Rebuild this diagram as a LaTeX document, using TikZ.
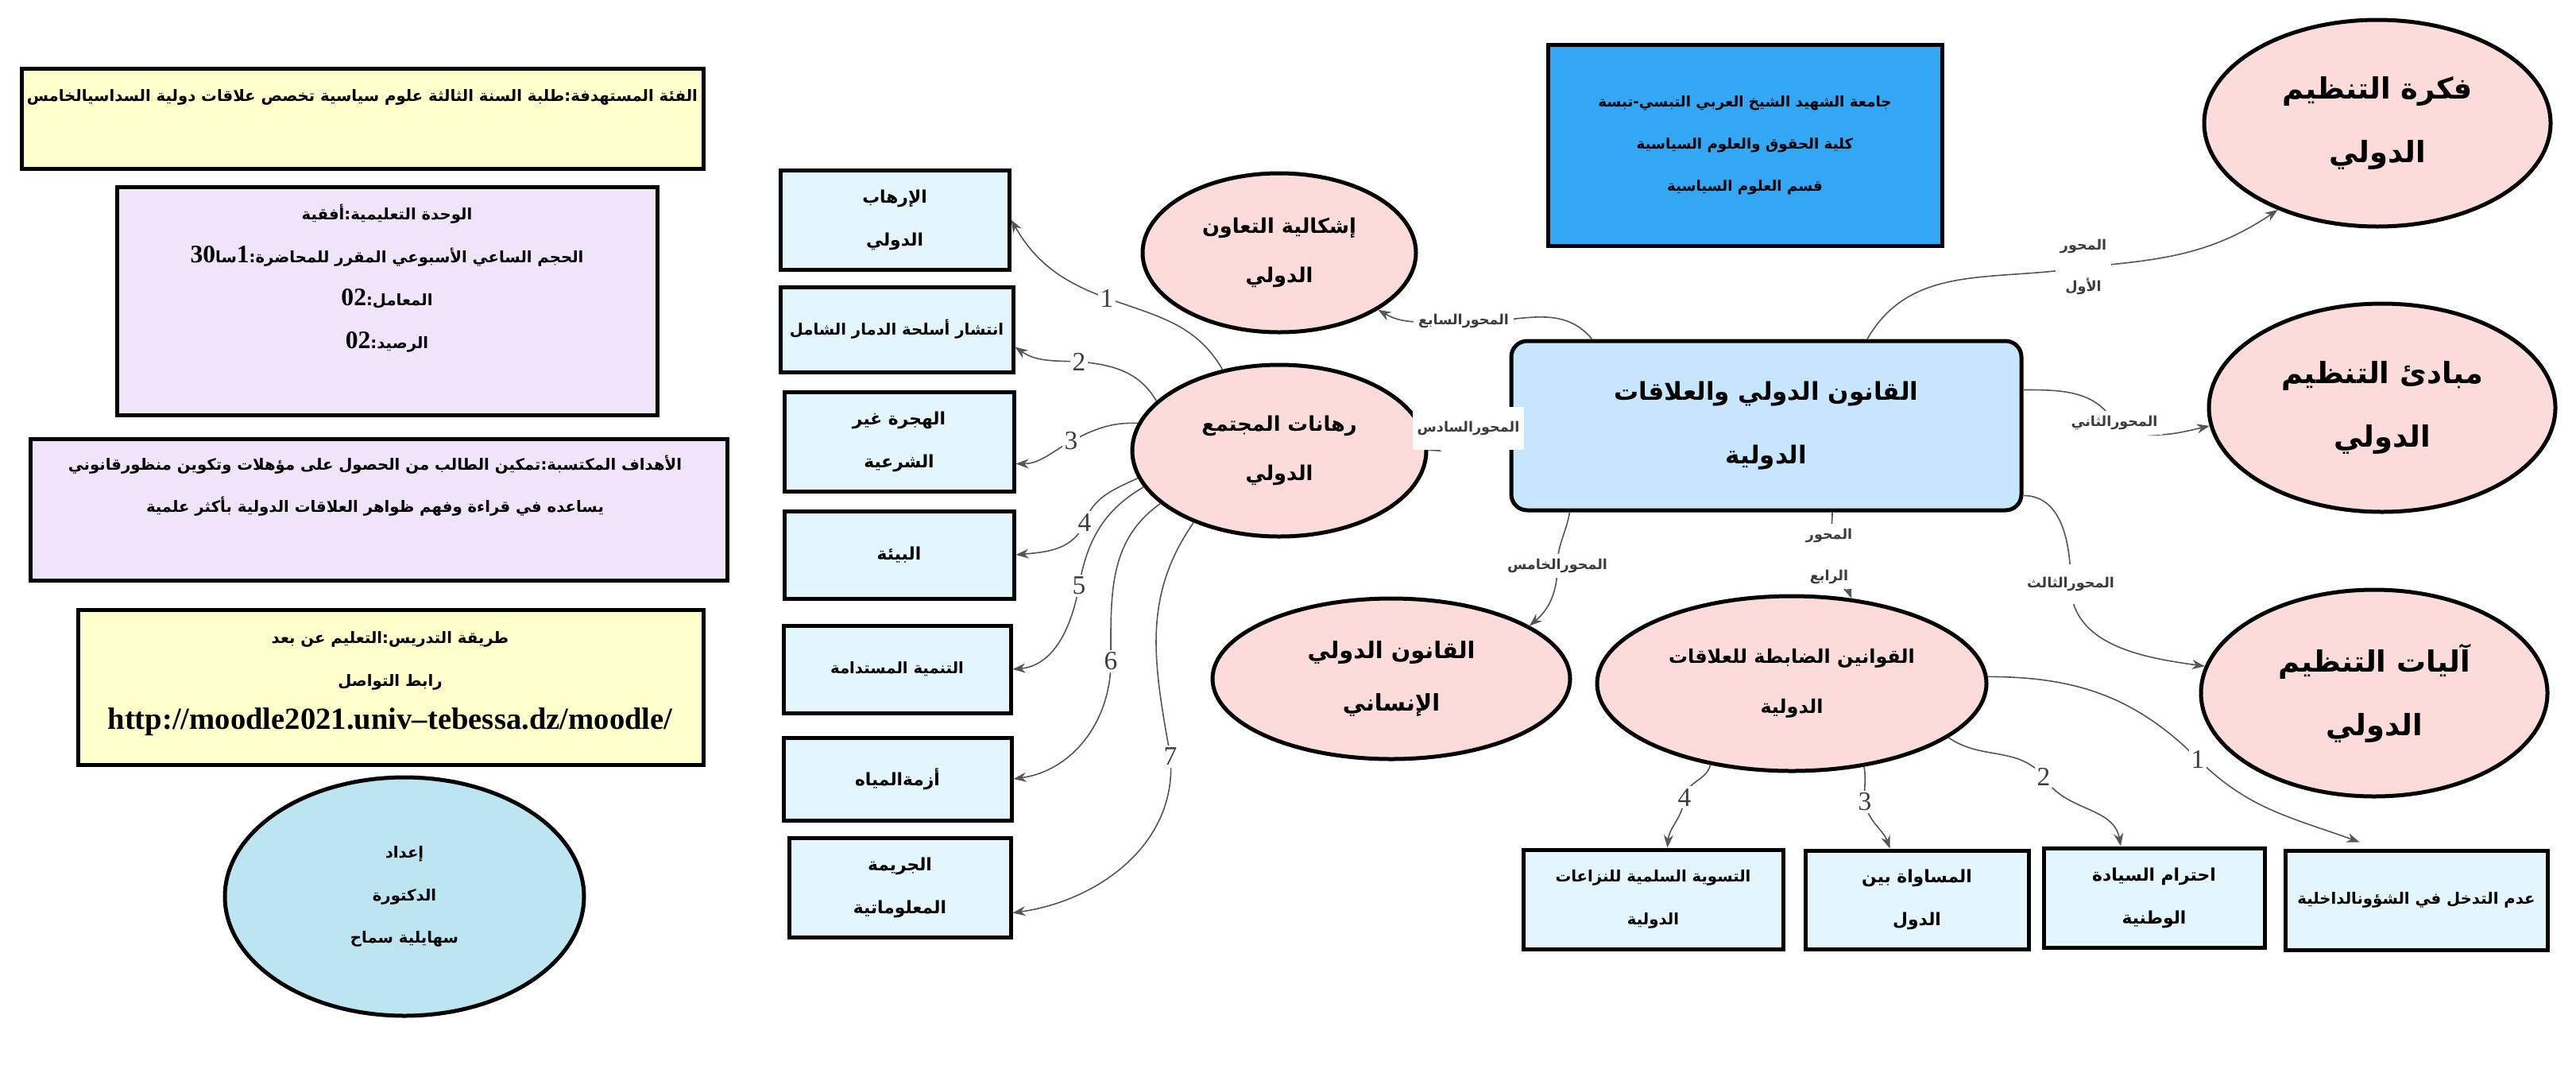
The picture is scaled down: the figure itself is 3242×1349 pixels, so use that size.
\documentclass[tikz,border=0pt]{standalone}
\usepackage{fontspec}
\usetikzlibrary{shapes.geometric,arrows.meta,calc}
\TeXXeTstate=1
\newfontfamily\arabicfont[Script=Arabic]{DejaVu Sans}
\newfontfamily\numfont{Liberation Serif}
\newcommand{\ArT}[1]{\beginR#1\endR}
\definecolor{yel}{HTML}{FFFFCC}
\definecolor{lav}{HTML}{F0E4FA}
\definecolor{lblue}{HTML}{BDE4F1}
\definecolor{pinkE}{HTML}{FBDCDA}
\definecolor{pbox}{HTML}{E3F5FD}
\definecolor{cbox}{HTML}{C5E6FC}
\definecolor{ubox}{HTML}{33A7F3}
\definecolor{lineG}{HTML}{555555}
\definecolor{numG}{HTML}{3C3C3C}
\tikzset{
  box/.style={draw=black, line width=0.5mm, rectangle, inner sep=0pt},
  ell/.style={draw=black, line width=0.5mm, ellipse, inner sep=0pt, fill=pinkE},
  conn/.style={draw=lineG, line width=0.16mm, -{Stealth[length=1.6mm,width=1.2mm]}},
  num/.style={fill=white, inner sep=0.3mm, text=numG, font=\numfont\fontsize{9.5}{10}\selectfont},
  axl/.style={fill=white, inner sep=0.6mm, text=numG, align=center, font=\arabicfont\bfseries\fontsize{5}{15}\selectfont},
  tsm/.style={align=center, font=\arabicfont\bfseries\fontsize{6.2}{15.3}\selectfont},
  txs/.style={align=center, font=\arabicfont\bfseries\fontsize{5.6}{15.3}\selectfont},
  tmid/.style={align=center, font=\arabicfont\bfseries\fontsize{7.3}{17.5}\selectfont},
  tbig/.style={align=center, font=\arabicfont\bfseries\fontsize{10.5}{22.8}\selectfont},
  tctr/.style={align=center, font=\arabicfont\bfseries\fontsize{8.8}{22.5}\selectfont},
  nb/.style={font=\numfont\bfseries\fontsize{9}{15}\selectfont},
}
\begin{document}
\begin{tikzpicture}[x=0.1mm,y=-0.1mm]
\fill[white] (0,0) rectangle (3242,1349);
\useasboundingbox (0,0) rectangle (3242,1349);

% ---------- left column ----------
\node[box, fill=yel, minimum width=85.8mm, minimum height=12.6mm] (lb1) at (456,149) {};
\node[txs] (lb1t) at (456,122) {\ArT{الفئة المستهدفة:طلبة السنة الثالثة علوم سياسية تخصص علاقات دولية السداسيالخامس}};

\node[box, fill=lav, minimum width=68mm, minimum height=28.7mm] (lb2) at (487,378.5) {};
\node[txs] (lb2t) at (487,350) {\ArT{الوحدة التعليمية:أفقية}\\
\ArT{الحجم الساعي الأسبوعي المقرر للمحاضرة:\beginL{\numfont\bfseries\fontsize{9}{15}\selectfont 1}\endL سا\beginL{\numfont\bfseries\fontsize{9}{15}\selectfont 30}\endL}\\
\ArT{المعامل:\beginL{\numfont\bfseries\fontsize{9}{15}\selectfont 02}\endL}\\
\ArT{الرصيد:\beginL{\numfont\bfseries\fontsize{9}{15}\selectfont 02}\endL}};

\node[box, fill=lav, minimum width=87.7mm, minimum height=17.8mm] (lb3) at (476.5,641) {};
\node[txs] (lb3t) at (472,611) {\ArT{الأهداف المكتسبة:تمكين الطالب من الحصول على مؤهلات وتكوين منظورقانوني}\\
\ArT{يساعده في قراءة وفهم  ظواهر العلاقات الدولية  بأكثر علمية}};

\node[box, fill=yel, minimum width=78.7mm, minimum height=19.5mm] (lb4) at (491.5,864.5) {};
\node[txs] (lb4t) at (491,860) {\ArT{طريقة التدريس:التعليم عن بعد}\\
\ArT{رابط التواصل}\\
{\numfont\fontsize{11}{15}\selectfont http://moodle2021.univ–tebessa.dz/moodle/}};

\node[ell, fill=lblue, minimum width=45.2mm, minimum height=30mm, txs] (el) at (509,1128)
  {\ArT{إعداد}\\ \ArT{الدكتورة}\\ \ArT{سهايلية سماح}};

% ---------- middle boxes ----------
\node[box, fill=pbox, minimum width=28.8mm, minimum height=12.5mm, tsm] (m1) at (1126,276.5) {\ArT{الإرهاب}\\ \ArT{الدولي}};
\node[box, fill=pbox, minimum width=29.3mm, minimum height=10.7mm, txs] (m2) at (1128.5,414.5) {\ArT{انتشار أسلحة الدمار الشامل}};
\node[box, fill=pbox, minimum width=28.9mm, minimum height=12.5mm, tsm] (m3) at (1131.5,555.5) {\ArT{الهجرة غير}\\ \ArT{الشرعية}};
\node[box, fill=pbox, minimum width=28.9mm, minimum height=11mm, tsm] (m4) at (1131.5,698) {\ArT{البيئة}};
\node[box, fill=pbox, minimum width=28.6mm, minimum height=11mm, txs] (m5) at (1129,842) {\ArT{التنمية المستدامة}};
\node[box, fill=pbox, minimum width=28.7mm, minimum height=10.4mm, tsm] (m6) at (1129.5,980) {\ArT{أزمةالمياه}};
\node[box, fill=pbox, minimum width=27.9mm, minimum height=12.5mm, tsm] (m7) at (1132.5,1116.5) {\ArT{الجريمة}\\ \ArT{المعلوماتية}};

% ---------- ellipses ----------
\node[ell, minimum width=34.4mm, minimum height=20mm, tmid] (iq) at (1610,318) {\ArT{إشكالية التعاون}\\ \ArT{الدولي}};
\node[ell, minimum width=37mm, minimum height=21.6mm, tmid] (rh) at (1610,567) {\ArT{رهانات المجتمع}\\ \ArT{الدولي}};
\node[ell, minimum width=45mm, minimum height=20.2mm, tmid, font=\arabicfont\bfseries\fontsize{8.2}{19}\selectfont] (ins) at (1751,854) {\ArT{القانون الدولي}\\ \ArT{الإنساني}};
\node[ell, minimum width=49mm, minimum height=22mm, tmid, font=\arabicfont\bfseries\fontsize{6.8}{18}\selectfont] (qw) at (2255,860) {\ArT{القوانين الضابطة للعلاقات}\\ \ArT{الدولية}};
\node[ell, minimum width=43.6mm, minimum height=26mm, tbig] (fk) at (2992,155) {\ArT{فكرة التنظيم}\\ \ArT{الدولي}};
\node[ell, minimum width=43.6mm, minimum height=26.2mm, tbig] (mb) at (2998,513) {\ArT{مبادئ التنظيم}\\ \ArT{الدولي}};
\node[ell, minimum width=43.6mm, minimum height=26mm, tbig] (al) at (2988,872) {\ArT{آليات التنظيم}\\ \ArT{الدولي}};

% ---------- top boxes ----------
\node[box, fill=ubox, minimum width=49.6mm, minimum height=25.3mm, align=center, font=\arabicfont\bfseries\fontsize{5.2}{15.1}\selectfont] (uni) at (2196,182.5)
  {\ArT{جامعة الشهيد الشيخ العربي التبسي-تبسة}\\ \ArT{كلية الحقوق والعلوم السياسية}\\ \ArT{قسم العلوم السياسية}};
\node[box, fill=cbox, rounded corners=2mm, minimum width=64.2mm, minimum height=21.3mm, tctr] (ct) at (2223,535.5)
  {\ArT{القانون الدولي والعلاقات}\\ \ArT{الدولية}};

% ---------- bottom boxes ----------
\node[box, fill=pbox, minimum width=32.7mm, minimum height=12.5mm, txs] (bt1) at (2080.5,1131.5) {\ArT{التسوية السلمية للنزاعات}\\ \ArT{الدولية}};
\node[box, fill=pbox, minimum width=28.1mm, minimum height=12.4mm, tsm] (bt2) at (2412.5,1132) {\ArT{المساواة بين}\\ \ArT{الدول}};
\node[box, fill=pbox, minimum width=27.8mm, minimum height=12.5mm, tsm] (bt3) at (2711,1129.5) {\ArT{احترام  السيادة}\\ \ArT{الوطنية}};
\node[box, fill=pbox, minimum width=33mm, minimum height=12.5mm, txs] (bt4) at (3041,1132.5) {\ArT{عدم التدخل في الشؤونالداخلية}};

% ---------- label positions ----------
\coordinate (p1) at (1393,375);
\coordinate (p2) at (1358,455);
\coordinate (p3) at (1348,555);
\coordinate (p4) at (1365,657);
\coordinate (p5) at (1358,737);
\coordinate (p6) at (1398,832);
\coordinate (p7) at (1473,952);
\coordinate (q1) at (2622,336);
\coordinate (q2) at (2661,532);
\coordinate (q3) at (2606,735);
\coordinate (q4) at (2302,700);
\coordinate (q5) at (1960,712);
\coordinate (q6) at (1848,539);
\coordinate (q7) at (1842,404);
\coordinate (r1) at (2766,955);
\coordinate (r2) at (2572,977);
\coordinate (r3) at (2347,1009);
\coordinate (r4) at (2120,1003);

% ---------- connectors from rh ----------
\draw[conn] (rh.125) to[out=120,in=-20] (p1) to[out=160,in=-60] (m1.east);
\draw[conn] (rh.158) to[out=120,in=-5] (p2) to[out=178,in=-35] ($(m2.east)+(0,22)$);
\draw[conn] (rh.169) to[out=178,in=27] (p3) to[out=210,in=0] ($(m3.east)+(0,28)$);
\draw[conn] (rh.191) to[out=205,in=70] (p4) to[out=250,in=5] (m4.east);
\draw[conn] (rh.195) to[out=210,in=80] (p5) to[out=260,in=5] (m5.east);
\draw[conn] (rh.204) to[out=215,in=90] (p6) to[out=-90,in=8] (m6.east);
\draw[conn] (rh.220) to[out=235,in=100] (p7) to[out=-85,in=8] ($(m7.east)+(0,32)$);

% ---------- connectors from ct ----------
\draw[conn] ($(ct.north)+(127,0)$) to[out=60,in=190] (q1) to[out=5,in=214] (fk.221);
\draw[conn] ($(ct.east)+(0,-45)$) to[out=0,in=120] (q2) to[out=-30,in=193] (mb.186);
\draw[conn] ($(ct.east)+(0,88)$) to[out=0,in=90] (q3) to[out=-90,in=172] (al.171);
\draw[conn] ($(ct.south)+(83,0)$) to[out=-90,in=90] (q4) to[out=-90,in=110] (qw.55);
\draw[conn] ($(ct.south west)+(76,0)$) to[out=-100,in=90] (q5) to[out=-90,in=40] (ins.21);
\draw[conn] (ct.west) -- (rh.east);
\draw[conn] ($(ct.north west)+(104,0)$) to[out=130,in=-5] (q7) to[out=178,in=-30] (iq.-30);

% ---------- connectors from qw ----------
\draw[conn] (qw.2) to[out=0,in=135] (r1) to[out=-45,in=160] ($(bt4.north west)+(96,-8)$);
\draw[conn] (qw.-19.5) to[out=-35,in=130] (r2) to[out=-60,in=100] ($(bt3.north)+(-42,0)$);
\draw[conn] (qw.-49) to[out=-80,in=95] (r3) to[out=-80,in=110] ($(bt2.north)+(-34,0)$);
\draw[conn] (qw.225) to[out=-105,in=80] (r4) to[out=-95,in=85] ($(bt1.north)+(18,0)$);

% ---------- labels ----------
\node[num] (n1) at (p1) {1};
\node[num] (n2) at (p2) {2};
\node[num] (n3) at (p3) {3};
\node[num] (n4) at (p4) {4};
\node[num] (n5) at (p5) {5};
\node[num] (n6) at (p6) {6};
\node[num] (n7) at (p7) {7};
\node[num] (k1) at (r1) {1};
\node[num] (k2) at (r2) {2};
\node[num] (k3) at (r3) {3};
\node[num] (k4) at (r4) {4};
\node[axl] (a1) at (q1) {\ArT{المحور}\\ \ArT{الأول}};
\node[axl] (a2) at (q2) {\ArT{المحورالثاني}};
\node[axl, minimum height=5mm] (a3) at (q3) {\ArT{المحورالثالث}};
\node[axl] (a4) at (q4) {\ArT{المحور}\\ \ArT{الرابع}};
\node[axl] (a5) at (q5) {\ArT{المحورالخامس}};
\node[axl, minimum width=13mm, minimum height=5.4mm] (a6) at (q6) {\ArT{المحورالسادس}};
\node[axl] (a7) at (q7) {\ArT{المحورالسابع}};
\end{tikzpicture}
\end{document}
